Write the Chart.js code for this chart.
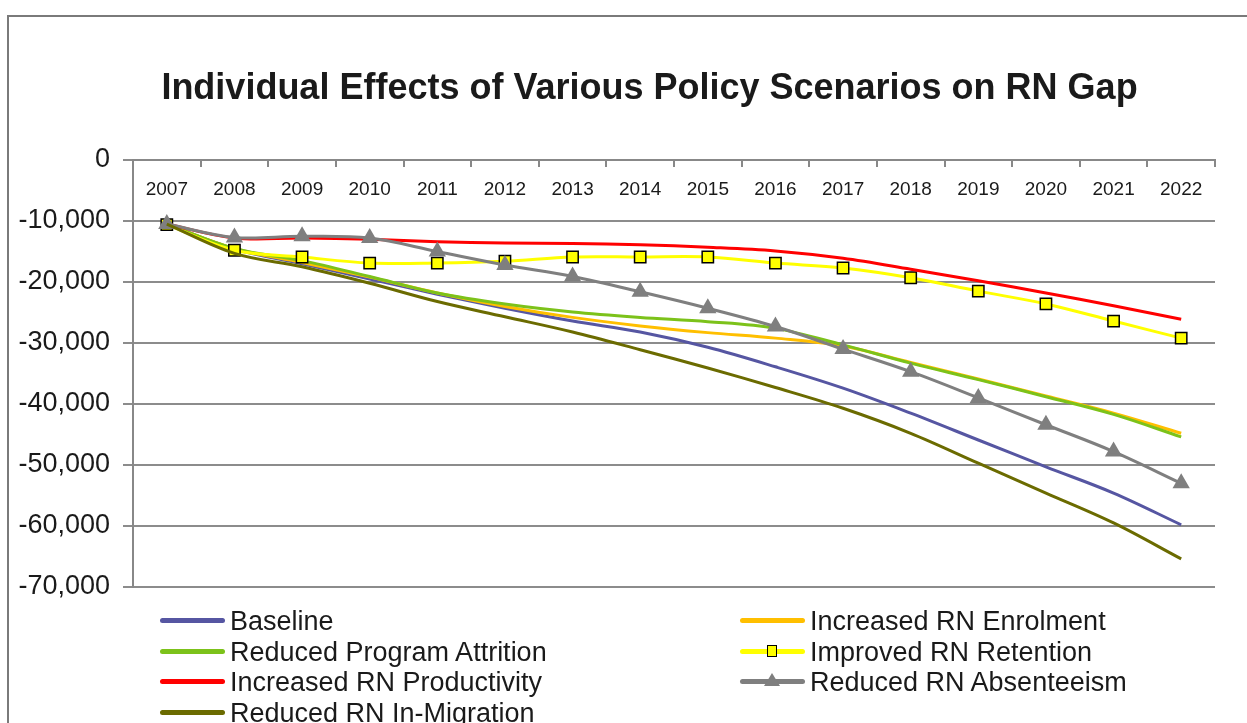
<!DOCTYPE html>
<html>
<head>
<meta charset="utf-8">
<script src="https://cdn.jsdelivr.net/npm/chart.js@4.4.1/dist/chart.umd.min.js"></script>
<style>
  body { margin: 0; background: #fff; }
  #wrap { position: relative; width: 1247px; height: 723px; overflow: hidden; }
  #frame { position: absolute; left: 7px; top: 15px; width: 1300px; height: 800px;
           border-left: 2px solid #7a7a7a; border-top: 2px solid #7a7a7a; pointer-events: none; }
  #legend { position: absolute; left: 0; top: 606px; font-family: 'Liberation Sans', Arial, sans-serif;
            font-size: 27px; color: #1a1a1a; }
  .item { position: absolute; height: 30px; line-height: 30px; white-space: nowrap; }
  .sample { position: absolute; left: 0; top: 12px; width: 65px; height: 5px; border-radius: 3px; }
  .label { position: absolute; left: 70px; top: 0; }
  .mk-rect { position: absolute; left: 27px; top: -4px; width: 8px; height: 10px;
             background: #ffff00; border: 1.5px solid #000; }
  .mk-tri { position: absolute; left: 24px; top: -6px; width: 0; height: 0;
            border-left: 8px solid transparent; border-right: 8px solid transparent;
            border-bottom: 13px solid #7f7f7f; }
</style>
</head>
<body>
<div id="wrap">
  <canvas id="rnChart" width="1247" height="723"></canvas>
  <div id="frame"></div>
  <div id="legend"></div>
</div>
<script>
const years = ['2007', '2008', '2009', '2010', '2011', '2012', '2013', '2014',
               '2015', '2016', '2017', '2018', '2019', '2020', '2021', '2022'];

const baseline     = [-10500, -14600, -17000, -19500, -22000, -24300, -26400, -28200, -30700, -33900, -37400, -41500, -45900, -50300, -54600, -59800];
const enrolment    = [-10500, -14500, -16800, -19200, -21800, -24000, -25800, -27200, -28300, -29200, -30500, -33200, -35900, -38700, -41500, -44800];
const attrition    = [-10500, -14500, -16500, -19100, -21800, -23600, -24900, -25800, -26500, -27600, -30300, -33300, -36000, -38800, -41700, -45400];
const retention    = [-10600, -14800, -15900, -16900, -16900, -16600, -15900, -15900, -15900, -16900, -17700, -19300, -21500, -23600, -26400, -29200];
const productivity = [-10500, -12800, -12800, -13000, -13400, -13600, -13700, -13900, -14300, -14900, -16100, -17900, -19800, -21800, -23900, -26100];
const absenteeism  = [-10500, -12700, -12500, -12800, -15000, -17200, -19100, -21600, -24300, -27300, -31000, -34700, -39000, -43400, -47800, -53000];
const inMigration  = [-10500, -15300, -17500, -20200, -23200, -25700, -28200, -31100, -34100, -37300, -40700, -44800, -49700, -54600, -59500, -65400];

const seriesNames = ['Baseline', 'Increased RN Enrolment', 'Reduced Program Attrition',
                     'Improved RN Retention', 'Increased RN Productivity',
                     'Reduced RN Absenteeism', 'Reduced RN In-Migration'];
const seriesValues = [baseline, enrolment, attrition, retention, productivity, absenteeism, inMigration];
const seriesColors = ['#5656a2', '#ffbf00', '#7cc21a', '#ffff00', '#ff0000', '#7f7f7f', '#6b6b00'];

const yTicks = [0, -10000, -20000, -30000, -40000, -50000, -60000, -70000];

const datasets = seriesNames.map((name, i) => {
    const ds = {
        label: name,
        data: seriesValues[i],
        borderColor: seriesColors[i],
        backgroundColor: seriesColors[i],
        borderWidth: 3,
        tension: 0.35,
        pointRadius: 0,
        order: seriesNames.length - i
    };
    if (name === 'Improved RN Retention') {
        ds.pointStyle = 'rect';
        ds.pointRadius = 8;
        ds.pointBackgroundColor = '#ffff00';
        ds.pointBorderColor = '#000';
        ds.pointBorderWidth = 1.5;
    }
    if (name === 'Reduced RN Absenteeism') {
        ds.pointStyle = 'triangle';
        ds.pointRadius = 7;
        ds.pointBackgroundColor = '#7f7f7f';
        ds.pointBorderColor = '#7f7f7f';
    }
    return ds;
});

// the original title sits a bit right of the canvas centre
const shiftTitle = {
    id: 'shiftTitle',
    afterLayout(chart) {
        if (chart.titleBlock) chart.titleBlock.left = 84;
    }
};

const chart = new Chart(document.getElementById('rnChart'), {
    type: 'line',
    data: { labels: years, datasets: datasets },
    plugins: [shiftTitle],
    options: {
        responsive: false,
        animation: false,
        layout: { padding: { top: 67, left: 0, right: 32, bottom: 136 } },
        plugins: {
            legend: { display: false },
            tooltip: { enabled: false },
            title: {
                display: true,
                text: 'Individual Effects of Various Policy Scenarios on RN Gap',
                color: '#1a1a1a',
                font: { family: "'Liberation Sans', Arial, sans-serif", size: 36, weight: 'bold' },
                padding: { top: 0, bottom: 41.8 }
            }
        },
        scales: {
            x: {
                position: 'top',
                offset: true,
                afterFit: scale => { scale.height = 8; },
                grid: { offset: true, drawOnChartArea: false, tickLength: -7, color: '#888', lineWidth: 2 },
                border: { color: '#888', width: 2 },
                ticks: {
                    mirror: true,
                    padding: 18,
                    maxRotation: 0,
                    autoSkip: false,
                    color: '#1a1a1a',
                    font: { family: "'Liberation Sans', Arial, sans-serif", size: 19 }
                }
            },
            y: {
                min: -70000,
                max: 0,
                afterFit: scale => { scale.width = 133; },
                afterBuildTicks: scale => { scale.ticks = yTicks.map(v => ({ value: v })); },
                grid: { color: '#8c8c8c', lineWidth: 2, tickLength: 10 },
                border: { color: '#888', width: 2 },
                ticks: {
                    padding: 13,
                    color: '#1a1a1a',
                    font: { family: "'Liberation Sans', Arial, sans-serif", size: 27 },
                    callback: v => v.toLocaleString('en-US')
                }
            }
        }
    }
});

// HTML legend, two columns like the original
const legendBox = document.getElementById('legend');
chart.data.datasets.forEach((ds, i) => {
    const item = document.createElement('div');
    item.className = 'item';
    item.style.left = (i % 2 === 0 ? 160 : 740) + 'px';
    item.style.top = (Math.floor(i / 2) * 30.5) + 'px';
    const sample = document.createElement('div');
    sample.className = 'sample';
    sample.style.background = ds.borderColor;
    if (ds.pointStyle === 'rect') sample.innerHTML = '<div class="mk-rect"></div>';
    if (ds.pointStyle === 'triangle') sample.innerHTML = '<div class="mk-tri"></div>';
    const label = document.createElement('span');
    label.className = 'label';
    label.textContent = ds.label;
    item.appendChild(sample);
    item.appendChild(label);
    legendBox.appendChild(item);
});
</script>
</body>
</html>
